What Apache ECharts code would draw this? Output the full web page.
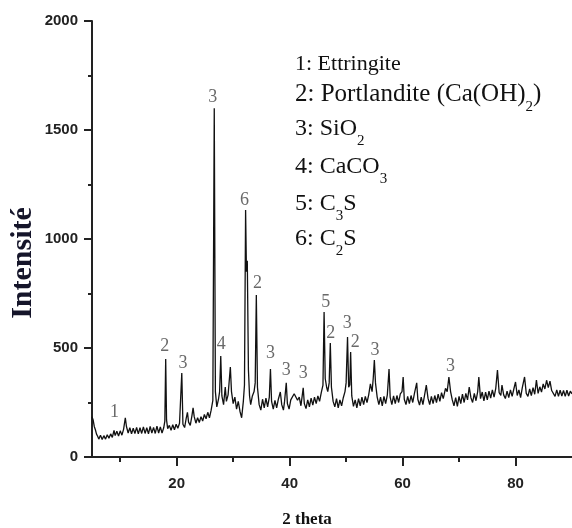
<!DOCTYPE html>
<html><head><meta charset="utf-8">
<script src="https://cdn.jsdelivr.net/npm/echarts@6/dist/echarts.min.js"></script>
<style>html,body{margin:0;padding:0;background:#fff}#c{width:572px;height:528px}</style>
</head><body><div id="c"></div>
<script>
// XRD pattern: [2theta, intensity]
const xrd = [
[5,185],[5.2,170],[5.4,140],[5.6,125],[5.8,105],[6.0,95],[6.2,82],[6.5,100],[6.8,80],[7.1,98],[7.4,82],[7.7,102],[8.0,86],[8.3,106],[8.6,90],[8.9,122],[9.1,98],[9.4,118],[9.7,96],[10.0,120],[10.3,100],[10.6,128],[10.9,180],[11.1,140],[11.4,110],[11.7,134],[12.0,106],[12.3,132],[12.6,108],[12.9,136],[13.2,106],[13.5,134],[13.8,108],[14.1,138],[14.4,108],[14.7,134],[15.0,106],[15.3,140],[15.6,110],[15.9,136],[16.2,108],[16.5,142],[16.8,110],[17.1,138],[17.4,110],[17.7,134],[17.9,165],[18.05,450],[18.2,170],[18.4,130],[18.7,145],[19.0,122],[19.3,148],[19.6,125],[19.9,150],[20.2,132],[20.5,155],[20.7,150],[20.9,385],[21.1,150],[21.4,135],[21.7,180],[21.9,205],[22.1,160],[22.4,145],[22.7,190],[22.9,225],[23.1,185],[23.4,155],[23.7,180],[24.0,158],[24.3,185],[24.6,165],[24.9,195],[25.2,175],[25.5,205],[25.8,180],[26.1,215],[26.4,260],[26.65,1600],[26.85,300],[27.1,230],[27.4,265],[27.6,300],[27.8,463],[28.0,280],[28.3,240],[28.6,321],[28.8,255],[29.1,285],[29.5,413],[29.7,300],[30.0,245],[30.3,275],[30.6,220],[30.9,255],[31.2,210],[31.5,180],[31.8,255],[32.0,330],[32.2,1133],[32.35,850],[32.5,900],[32.7,400],[32.9,280],[33.1,240],[33.4,280],[33.7,300],[33.9,340],[34.1,743],[34.3,320],[34.6,240],[34.9,215],[35.2,265],[35.5,225],[35.8,270],[36.1,230],[36.4,275],[36.6,404],[36.8,255],[37.1,220],[37.4,260],[37.7,225],[38.0,265],[38.35,298],[38.6,240],[38.9,215],[39.1,255],[39.4,340],[39.6,245],[39.9,220],[40.2,262],[40.5,255],[40.8,290],[41.1,294],[41.4,260],[41.7,275],[42.0,235],[42.4,317],[42.6,245],[42.9,222],[43.2,262],[43.5,230],[43.8,270],[44.1,238],[44.4,275],[44.7,245],[45.0,280],[45.3,255],[45.6,295],[45.9,330],[46.1,665],[46.3,360],[46.55,320],[46.75,300],[47.0,340],[47.2,523],[47.4,320],[47.7,255],[48.0,230],[48.3,268],[48.6,225],[48.9,262],[49.2,235],[49.5,272],[49.8,300],[50.0,340],[50.25,550],[50.45,320],[50.65,330],[50.8,482],[51.0,280],[51.3,232],[51.6,262],[51.9,225],[52.2,268],[52.5,235],[52.8,275],[53.1,240],[53.4,278],[53.7,250],[54.0,285],[54.3,335],[54.6,300],[54.8,360],[55.0,445],[55.2,340],[55.5,275],[55.8,240],[56.1,275],[56.4,235],[56.7,278],[57.0,245],[57.3,285],[57.6,404],[57.8,275],[58.1,240],[58.4,280],[58.7,245],[59.0,282],[59.3,250],[59.6,290],[59.9,300],[60.1,367],[60.3,265],[60.6,240],[60.9,278],[61.2,245],[61.5,282],[61.8,250],[62.1,292],[62.5,340],[62.7,265],[63.0,238],[63.3,275],[63.6,240],[63.9,285],[64.2,330],[64.5,270],[64.8,240],[65.1,278],[65.4,245],[65.7,282],[66.0,250],[66.3,288],[66.6,255],[66.9,295],[67.2,268],[67.6,315],[67.9,300],[68.2,367],[68.5,300],[68.8,262],[69.1,235],[69.4,272],[69.7,232],[70.0,278],[70.3,245],[70.6,288],[70.9,250],[71.2,292],[71.5,262],[71.8,321],[72.1,272],[72.4,250],[72.7,292],[73.0,258],[73.3,300],[73.5,367],[73.8,268],[74.1,298],[74.4,258],[74.7,298],[75.0,262],[75.3,302],[75.6,270],[75.9,308],[76.2,275],[76.5,315],[76.8,399],[77.1,295],[77.4,282],[77.6,330],[77.9,285],[78.2,268],[78.5,302],[78.8,272],[79.1,308],[79.4,278],[79.7,312],[80.0,344],[80.3,282],[80.6,308],[80.9,272],[81.2,318],[81.6,367],[81.9,292],[82.2,278],[82.5,312],[82.8,282],[83.1,318],[83.4,288],[83.7,353],[84.0,292],[84.3,322],[84.6,298],[84.9,335],[85.2,312],[85.5,352],[85.8,318],[86.1,348],[86.4,305],[86.7,308],[87.0,278],[87.3,308],[87.6,278],[87.9,306],[88.2,280],[88.5,305],[88.8,278],[89.1,306],[89.4,280],[89.7,302],[90,290]
];
// peak annotation labels: [2theta, intensity, phase number]
const peakLabels = [
[9.0,206,'1'],[17.9,509,'2'],[21.1,431,'3'],[26.4,1651,'3'],[27.9,518,'4'],[32.0,1179,'6'],[34.3,798,'2'],
[36.6,477,'3'],[39.4,399,'3'],[42.4,385,'3'],[46.4,711,'5'],[47.3,569,'2'],[50.2,615,'3'],[51.6,528,'2'],
[55.1,491,'3'],[68.5,417,'3']
];
const xMajorTicks = [20,40,60,80];
const xMinorTicks = [10,30,50,70];
const yMajorTicks = [0,500,1000,1500,2000];
const yMinorTicks = [250,750,1250,1750];
const yMin = 0, yMax = 2000;
const xMin = 5, xMax = 90;
const legendLines = [
  '{a|1: Ettringite}',
  '{p|2: Portlandite (Ca(OH)}{s|2}{p|)}',
  '{m|3: SiO}{s|2}',
  '{m|4: CaCO}{s|3}',
  '{m|5: C}{s|3}{m|S}',
  '{m|6: C}{s|2}{m|S}'
];
const xName = '2 theta';
const yName = 'Intensité';

const chart = echarts.init(document.getElementById('c'), null, {renderer:'canvas'});
const axisColor = '#222';
const legendTops = [53, 82, 117, 155, 192, 227];
const rich = {
  a: {fontSize:22, fontFamily:'Liberation Serif', color:'#111', lineHeight:24},
  p: {fontSize:25, fontFamily:'Liberation Serif', color:'#111', lineHeight:40, verticalAlign:'middle'},
  m: {fontSize:24, fontFamily:'Liberation Serif', color:'#111', lineHeight:40, verticalAlign:'middle'},
  s: {fontSize:15, fontFamily:'Liberation Serif', color:'#111', lineHeight:15, verticalAlign:'bottom'}
};
const graphics = legendLines.map((t,i)=>({
  type:'text', left:295, top:legendTops[i], z:10,
  style:{text:t, rich:rich, fill:'#111'}
}));
graphics.push({type:'text', x:23, y:263, rotation:Math.PI/2, z:10,
  style:{text:yName, fontSize:30, fontWeight:'bold', fontFamily:'Liberation Serif', fill:'#15152a', align:'center', verticalAlign:'middle'}});
graphics.push({type:'text', x:307, y:520, z:10,
  style:{text:xName, fontSize:17, fontWeight:'bold', fontFamily:'Liberation Serif', fill:'#111', align:'center', verticalAlign:'middle'}});

const labelFont = {fontSize:15, fontWeight:'bold', fontFamily:'Liberation Sans', color:axisColor};

chart.setOption({
  backgroundColor:'#fff',
  animation:false,
  grid:{left:92, right:-2, top:21, bottom:71},
  graphic: graphics,
  xAxis:[{
    type:'value', min:xMin, max:xMax, position:'bottom',
    axisLine:{show:true, lineStyle:{color:axisColor, width:2}},
    axisTick:{show:true, customValues:xMajorTicks, length:9, lineStyle:{color:axisColor, width:2}},
    axisLabel:Object.assign({customValues:xMajorTicks, margin:19}, labelFont),
    splitLine:{show:false}
  },{
    type:'value', min:xMin, max:xMax, position:'bottom',
    axisLine:{show:false},
    axisTick:{show:true, customValues:xMinorTicks, length:5, lineStyle:{color:axisColor, width:2}},
    axisLabel:{show:false, customValues:xMinorTicks},
    splitLine:{show:false}
  }],
  yAxis:[{
    type:'value', min:yMin, max:yMax, position:'left',
    axisLine:{show:true, lineStyle:{color:axisColor, width:2}},
    axisTick:{show:true, customValues:yMajorTicks, length:8, lineStyle:{color:axisColor, width:2}},
    axisLabel:Object.assign({customValues:yMajorTicks, margin:14, formatter:v=>String(v)}, labelFont),
    splitLine:{show:false}
  },{
    type:'value', min:yMin, max:yMax, position:'left',
    axisLine:{show:false},
    axisTick:{show:true, customValues:yMinorTicks, length:4, lineStyle:{color:axisColor, width:2}},
    axisLabel:{show:false, customValues:yMinorTicks},
    splitLine:{show:false}
  }],
  series:[{
    type:'line', xAxisIndex:0, yAxisIndex:0, data:xrd, showSymbol:false, symbol:'none',
    lineStyle:{color:'#111', width:1.3}, z:3
  },{
    type:'scatter', xAxisIndex:0, yAxisIndex:0, symbolSize:1, itemStyle:{color:'rgba(0,0,0,0)'},
    data:peakLabels.map(p=>({value:[p[0],p[1]], name:p[2]})),
    label:{show:true, position:'inside', formatter:p=>p.name, fontSize:18, fontFamily:'Liberation Serif', color:'#444'},
    z:4
  }]
});
</script></body></html>
